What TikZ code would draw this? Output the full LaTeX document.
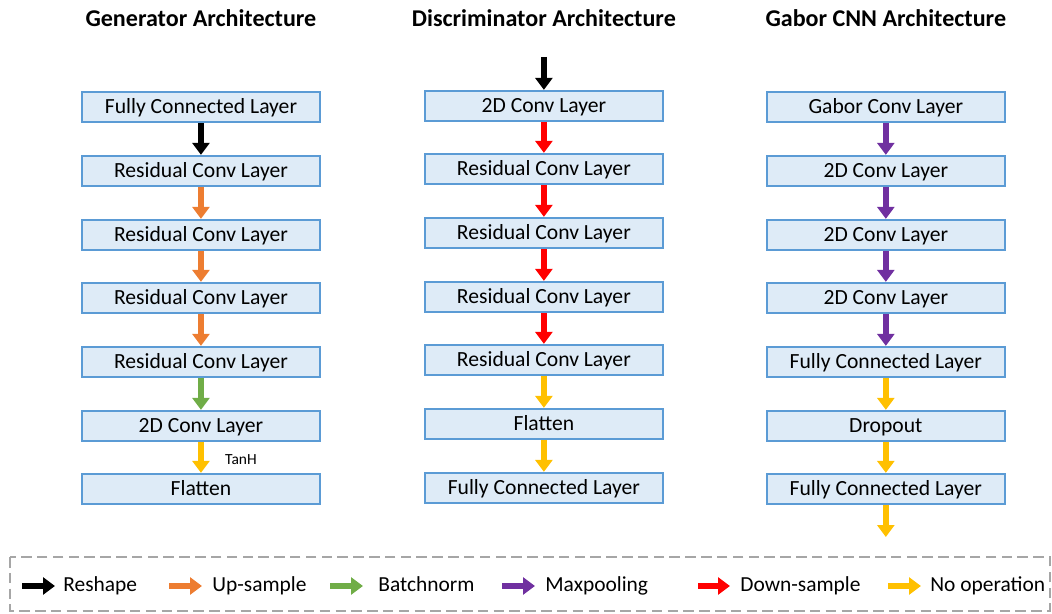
\documentclass[tikz,border=0pt]{standalone}
\usepackage{fontspec}
\setmainfont{Carlito}
\usetikzlibrary{arrows.meta}
\definecolor{boxfill}{HTML}{DEEBF7}
\definecolor{boxline}{HTML}{5B9BD5}
\definecolor{upcol}{HTML}{ED7D31}
\definecolor{bncol}{HTML}{70AD47}
\definecolor{poolcol}{HTML}{7030A0}
\definecolor{downcol}{HTML}{FF0000}
\definecolor{nopcol}{HTML}{FFC000}
\definecolor{legline}{HTML}{A6A6A6}
\tikzset{
  layer/.style={draw=boxline, fill=boxfill, line width=1.3pt, minimum width=4.76cm,
    minimum height=0.6cm, inner sep=0pt, text height=2ex, text depth=0.45ex,
    font=\fontsize{12.3}{14}\selectfont},
  title/.style={font=\fontsize{13.7}{16}\selectfont\bfseries},
  op/.style={line width=3.4pt, -{Triangle[width=9.6pt,length=6.8pt]}},
  legtext/.style={anchor=base west, inner sep=0pt, font=\fontsize{12.2}{14}\selectfont},
}
\begin{document}
\begin{tikzpicture}[x=0.02cm, y=-0.02cm]
\useasboundingbox (0,0) rectangle (1052,614);
\begin{scope}[xshift=4.02cm]
\node[title] (gt) at (0,18) {Generator Architecture};
\node[layer] (g1) at (0,107) {Fully Connected Layer};
\node[layer] (g2) at (0,171) {Residual Conv Layer};
\node[layer] (g3) at (0,235) {Residual Conv Layer};
\node[layer] (g4) at (0,298) {Residual Conv Layer};
\node[layer] (g5) at (0,362) {Residual Conv Layer};
\node[layer] (g6) at (0,426) {2D Conv Layer};
\node[layer] (g7) at (0,489) {Flatten};
\path[draw,op,black] (g1) -- (g2);
\path[draw,op,upcol] (g2) -- (g3);
\path[draw,op,upcol] (g3) -- (g4);
\path[draw,op,upcol] (g4) -- (g5);
\path[draw,op,bncol] (g5) -- (g6);
\path[draw,op,nopcol] (g6) -- (g7);
\node[font=\fontsize{8.8}{10}\selectfont] (tanh) at (40,460) {TanH};
\end{scope}
\begin{scope}[xshift=10.88cm]
\node[title] (dt) at (0,18) {Discriminator Architecture};
\coordinate (din) at (0,57);
\node[layer] (d1) at (0,106) {2D Conv Layer};
\node[layer] (d2) at (0,169) {Residual Conv Layer};
\node[layer] (d3) at (0,233) {Residual Conv Layer};
\node[layer] (d4) at (0,297) {Residual Conv Layer};
\node[layer] (d5) at (0,360) {Residual Conv Layer};
\node[layer] (d6) at (0,424) {Flatten};
\node[layer] (d7) at (0,488) {Fully Connected Layer};
\path[draw,op,black] (din) -- (d1);
\path[draw,op,downcol] (d1) -- (d2);
\path[draw,op,downcol] (d2) -- (d3);
\path[draw,op,downcol] (d3) -- (d4);
\path[draw,op,downcol] (d4) -- (d5);
\path[draw,op,nopcol] (d5) -- (d6);
\path[draw,op,nopcol] (d6) -- (d7);
\end{scope}
\begin{scope}[xshift=17.72cm]
\node[title] (ct) at (0,18) {Gabor CNN Architecture};
\node[layer] (c1) at (0,107) {Gabor Conv Layer};
\node[layer] (c2) at (0,171) {2D Conv Layer};
\node[layer] (c3) at (0,235) {2D Conv Layer};
\node[layer] (c4) at (0,298) {2D Conv Layer};
\node[layer] (c5) at (0,362) {Fully Connected Layer};
\node[layer] (c6) at (0,426) {Dropout};
\node[layer] (c7) at (0,489) {Fully Connected Layer};
\coordinate (cout) at (0,537);
\path[draw,op,poolcol] (c1) -- (c2);
\path[draw,op,poolcol] (c2) -- (c3);
\path[draw,op,poolcol] (c3) -- (c4);
\path[draw,op,poolcol] (c4) -- (c5);
\path[draw,op,nopcol] (c5) -- (c6);
\path[draw,op,nopcol] (c6) -- (c7);
\path[draw,op,nopcol] (c7) -- (cout);
\end{scope}
% legend
\draw[legline, line width=1.2pt, dash pattern=on 6pt off 3pt] (10,557) rectangle (1050,611);
\coordinate (l1a) at (22,586); \coordinate (l1b) at (55,586);
\node[legtext] (l1) at (63,592) {Reshape};
\coordinate (l2a) at (169,586); \coordinate (l2b) at (202,586);
\node[legtext] (l2) at (212,592) {Up-sample};
\coordinate (l3a) at (330,586); \coordinate (l3b) at (363,586);
\node[legtext] (l3) at (378,592) {Batchnorm};
\coordinate (l4a) at (502,586); \coordinate (l4b) at (535,586);
\node[legtext] (l4) at (545,592) {Maxpooling};
\coordinate (l5a) at (698,586); \coordinate (l5b) at (730,586);
\node[legtext] (l5) at (740,592) {Down-sample};
\coordinate (l6a) at (888,586); \coordinate (l6b) at (921,586);
\node[legtext] (l6) at (930,592) {No operation};
\path[draw,op,black] (l1a) -- (l1b);
\path[draw,op,upcol] (l2a) -- (l2b);
\path[draw,op,bncol] (l3a) -- (l3b);
\path[draw,op,poolcol] (l4a) -- (l4b);
\path[draw,op,downcol] (l5a) -- (l5b);
\path[draw,op,nopcol] (l6a) -- (l6b);
\end{tikzpicture}
\end{document}
